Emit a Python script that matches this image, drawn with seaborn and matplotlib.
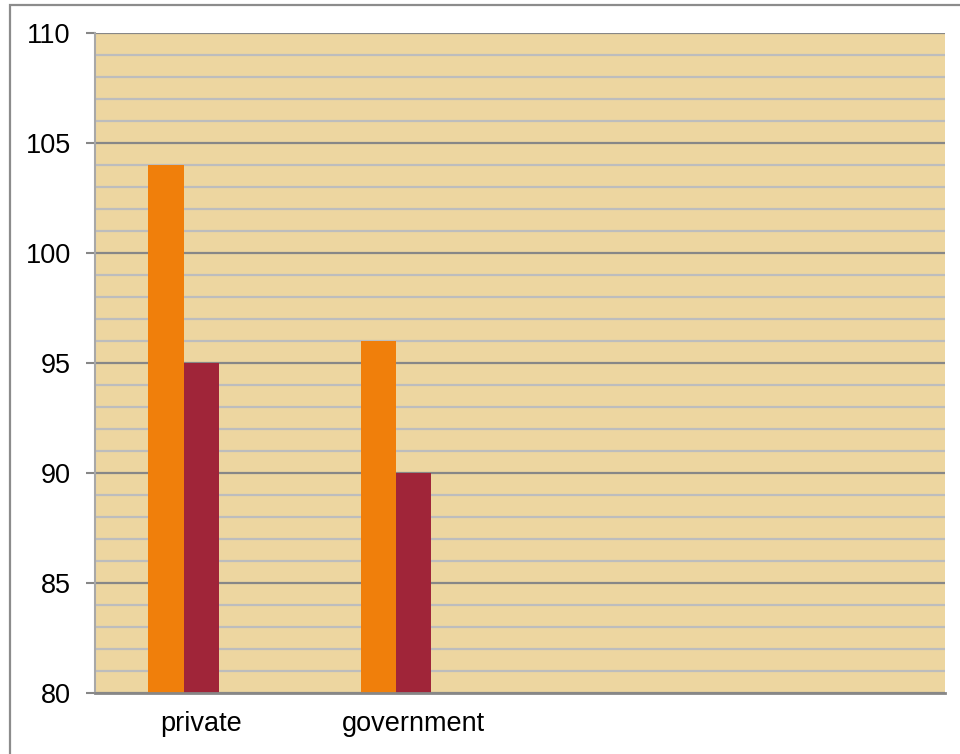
import matplotlib
matplotlib.use("Agg")
import matplotlib.pyplot as plt
from matplotlib.ticker import MultipleLocator
from matplotlib.patches import Rectangle
import numpy as np
import pandas as pd
import seaborn as sns

# Data
categories = ["private", "government"]
series_names = ["Series 1", "Series 2", "Series 3"]
series1 = [104, 96]
series2 = [95, 90]
series3 = [np.nan, np.nan]
bar_colors = ["#F07F0B", "#A02539", "#8064A2"]

rows = []
for name, vals in zip(series_names, [series1, series2, series3]):
    for cat, v in zip(categories, vals):
        rows.append({"category": cat, "series": name, "value": v})
df = pd.DataFrame(rows)

sns.set_theme(style="white")
plt.rcParams["font.family"] = ["Liberation Sans", "DejaVu Sans"]

fig = plt.figure(figsize=(9.6, 7.54), dpi=100)
ax = fig.add_axes([95 / 960, 1 - 693 / 754, (945 - 95) / 960, (693 - 33) / 754])
ax.set_facecolor("#EDD6A0")

sns.barplot(
    data=df, x="category", y="value", hue="series",
    order=categories, hue_order=series_names,
    palette=bar_colors, width=0.5, dodge=True,
    saturation=1, legend=False, errorbar=None, ax=ax,
    edgecolor="none", linewidth=0,
)

ax.set_xlim(-0.5, 3.5)
ax.set_ylim(80, 110)
ax.yaxis.set_major_locator(MultipleLocator(5))
ax.yaxis.set_minor_locator(MultipleLocator(1))
ax.set_axisbelow(True)
ax.grid(which="major", axis="y", color="#878787", linewidth=1.6)
ax.grid(which="minor", axis="y", color="#BDBDBD", linewidth=1.6)
ax.grid(which="major", axis="x", visible=False)

ax.set_xlabel("")
ax.set_ylabel("")
ax.tick_params(axis="y", which="major", length=6.5, width=1.5, color="#878787",
               pad=11, labelsize=19.5, labelcolor="#000000", left=True)
ax.tick_params(axis="y", which="minor", length=0)
ax.tick_params(axis="x", length=0, pad=13, labelsize=19.5, labelcolor="#000000")

for side in ["top", "right"]:
    ax.spines[side].set_visible(False)
ax.spines["left"].set_color("#A8A8A8")
ax.spines["left"].set_linewidth(1.5)
ax.spines["bottom"].set_color("#878787")
ax.spines["bottom"].set_linewidth(2)

# Outer chart frame
fig.patches.append(Rectangle((9.5 / 960, -0.05), 1.2, 1 - 4.5 / 754 + 0.05,
                             transform=fig.transFigure, fill=False,
                             edgecolor="#8C8C8C", linewidth=1.6))

fig.savefig("out.png", dpi=100)
